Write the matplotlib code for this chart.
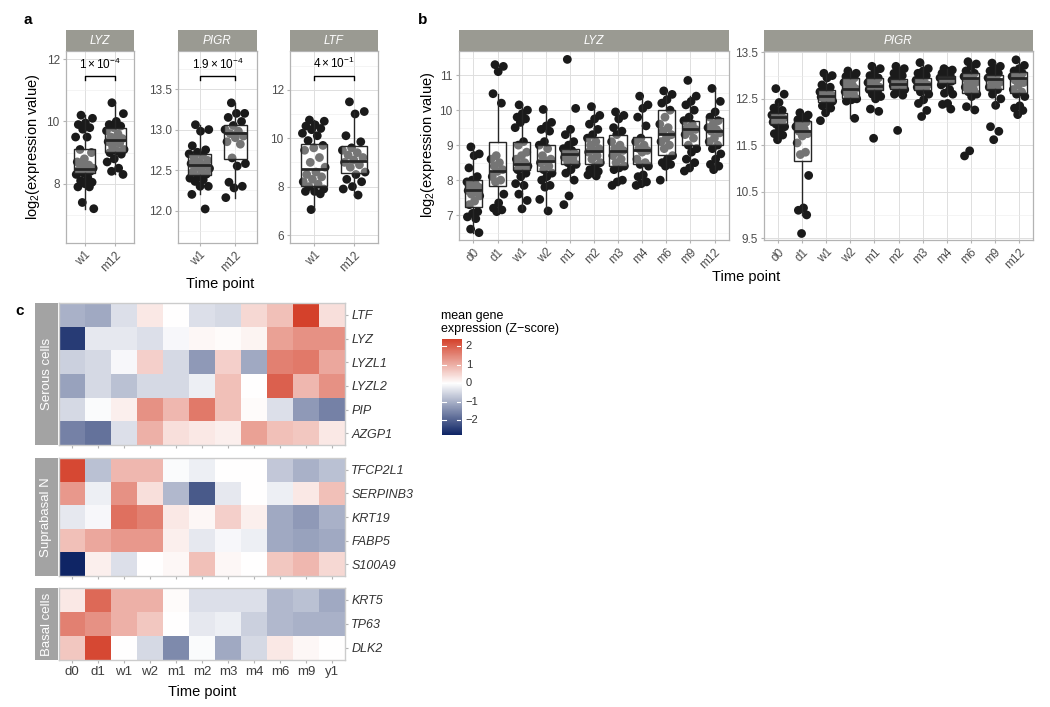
import numpy as np
import matplotlib
matplotlib.use('Agg')
import matplotlib.pyplot as plt
from matplotlib.colors import LinearSegmentedColormap, Normalize

plt.rcParams['font.family'] = ['Liberation Sans', 'DejaVu Sans']
plt.rcParams['mathtext.fontset'] = 'custom'
plt.rcParams['mathtext.rm'] = 'Liberation Sans'
plt.rcParams['mathtext.it'] = 'Liberation Sans:italic'
plt.rcParams['mathtext.bf'] = 'Liberation Sans:bold'

# ---------------- DATA ----------------
# Panel a: w1 vs m12
a_times = ['w1', 'm12']
a_genes = ['LYZ', 'PIGR', 'LTF']
a_pvals = [r'$1 \times 10^{-4}$', r'$1.9 \times 10^{-4}$', r'$4 \times 10^{-1}$']
a_bracket_y = [11.45, 13.66, 12.58]

a_lyz_pts = [
    [10.2, 10.1, 9.95, 9.9, 9.8, 9.75, 9.5, 9.5, 9.1, 9.0, 8.8, 8.7, 8.6, 8.6, 8.5, 8.5, 8.45,
     8.4, 8.35, 8.3, 8.2, 8.1, 8.05, 8.0, 7.9, 7.9, 7.4, 7.2],
    [10.6, 10.25, 10.0, 9.9, 9.85, 9.8, 9.7, 9.6, 9.5, 9.45, 9.4, 9.35, 9.3, 9.2, 9.1, 9.05,
     9.0, 8.95, 8.8, 8.7, 8.5, 8.4, 8.3],
]
a_pigr_pts = [
    [13.06, 13.0, 12.98, 12.8, 12.75, 12.72, 12.7, 12.68, 12.65, 12.62, 12.6, 12.58, 12.56,
     12.55, 12.52, 12.5, 12.48, 12.45, 12.42, 12.4, 12.38, 12.36, 12.3, 12.3, 12.2, 12.02],
    [13.33, 13.2, 13.2, 13.15, 13.1, 13.05, 13.0, 12.98, 12.95, 12.92, 12.9, 12.85, 12.82,
     12.65, 12.58, 12.55, 12.35, 12.3, 12.28, 12.16],
]
a_ltf_pts = [
    [10.75, 10.7, 10.55, 10.5, 10.4, 10.35, 10.2, 10.1, 9.9, 9.7, 9.6, 9.5, 9.2, 9.0, 8.8,
     8.6, 8.5, 8.4, 8.3, 8.2, 8.1, 8.0, 7.9, 7.8, 7.8, 7.7, 7.05],
    [11.5, 11.1, 11.0, 10.1, 9.85, 9.6, 9.5, 9.4, 9.3, 9.2, 9.1, 9.0, 8.9, 8.8, 8.6, 8.5,
     8.3, 8.2, 8.0, 7.9, 7.65],
]
# box stats: (whisker low, q1, median, q3, whisker high)
a_lyz_box = [(7.2, 8.35, 8.46, 9.13, 10.2), (8.3, 9.02, 9.39, 9.79, 10.6)]
a_pigr_box = [(12.2, 12.44, 12.56, 12.70, 13.06), (12.16, 12.64, 12.96, 13.06, 13.33)]
a_ltf_box = [(7.05, 8.04, 8.72, 9.77, 10.75), (7.65, 8.55, 9.06, 9.66, 11.1)]

a_lyz_ticks = [8, 10, 12]
a_lyz_ticklabels = ['8', '10', '12']
a_pigr_ticks = [12.0, 12.5, 13.0, 13.5]
a_pigr_ticklabels = ['12.0', '12.5', '13.0', '13.5']
a_ltf_ticks = [6, 8, 10, 12]
a_ltf_ticklabels = ['6', '8', '10', '12']

# Panel b: time course
b_times = ['d0', 'd1', 'w1', 'w2', 'm1', 'm2', 'm3', 'm4', 'm6', 'm9', 'm12']
b_genes = ['LYZ', 'PIGR']
b_lyz_pts = [
    [8.95, 8.75, 8.7, 8.35, 8.1, 8.0, 7.95, 7.9, 7.85, 7.8, 7.75, 7.7, 7.65, 7.6, 7.55, 7.4,
     7.3, 7.1, 7.05, 6.95, 6.9, 6.6, 6.5],
    [11.3, 11.25, 11.1, 10.47, 10.2, 8.7, 8.6, 8.5, 8.4, 8.3, 8.25, 8.1, 8.0, 7.95, 7.6,
     7.35, 7.2, 7.15, 7.1],
    [10.15, 10.0, 9.9, 9.8, 9.75, 9.65, 9.5, 9.1, 9.0, 8.8, 8.7, 8.6, 8.5, 8.45, 8.4, 8.35,
     8.3, 8.2, 8.1, 7.9, 7.85, 7.6, 7.42, 7.18],
    [10.02, 9.65, 9.55, 9.45, 9.4, 9.1, 9.0, 8.9, 8.7, 8.6, 8.55, 8.5, 8.4, 8.3, 8.2, 8.1,
     8.0, 7.85, 7.8, 7.45, 7.12],
    [11.45, 10.05, 9.45, 9.3, 9.1, 9.0, 8.9, 8.85, 8.8, 8.75, 8.7, 8.65, 8.6, 8.5, 8.45, 8.3,
     8.2, 8.0, 7.55, 7.3],
    [10.1, 9.85, 9.75, 9.6, 9.45, 9.3, 9.2, 9.1, 9.0, 8.9, 8.85, 8.8, 8.7, 8.6, 8.5, 8.4,
     8.3, 8.25, 8.2, 8.15, 8.12],
    [9.95, 9.85, 9.75, 9.5, 9.4, 9.3, 9.1, 9.0, 8.9, 8.85, 8.8, 8.7, 8.6, 8.5, 8.4, 8.35,
     8.3, 8.0, 7.95, 7.85],
    [10.4, 10.15, 10.05, 9.8, 9.55, 9.2, 9.1, 9.0, 8.9, 8.85, 8.8, 8.6, 8.5, 8.45, 8.4,
     8.15, 8.1, 7.95, 7.9, 7.85],
    [10.55, 10.45, 10.3, 10.2, 10.0, 9.8, 9.6, 9.5, 9.4, 9.3, 9.2, 9.1, 9.0, 8.9, 8.7, 8.6,
     8.5, 8.45, 8.4, 8.0],
    [10.85, 10.4, 10.25, 10.15, 10.0, 9.8, 9.7, 9.6, 9.5, 9.45, 9.4, 9.3, 9.2, 9.0, 8.9,
     8.8, 8.6, 8.5, 8.35, 8.26],
    [10.62, 10.25, 9.95, 9.8, 9.7, 9.6, 9.5, 9.45, 9.4, 9.35, 9.2, 9.1, 9.0, 8.9, 8.75, 8.6,
     8.45, 8.4, 8.3],
]
b_lyz_box = [
    (6.5, 7.23, 7.72, 8.0, 8.95), (7.1, 7.84, 8.26, 9.1, 10.47), (7.18, 8.3, 8.46, 9.1, 10.15),
    (7.12, 8.25, 8.56, 8.99, 10.02), (8.0, 8.47, 8.76, 8.9, 9.45), (8.12, 8.46, 8.84, 9.22, 10.1),
    (7.85, 8.39, 8.84, 9.29, 9.95), (7.85, 8.46, 8.85, 9.23, 10.4), (8.0, 8.73, 9.32, 10.0, 10.55),
    (8.26, 8.99, 9.47, 9.7, 10.4), (8.3, 9.01, 9.39, 9.77, 10.62),
]
b_pigr_pts = [
    [12.72, 12.6, 12.42, 12.3, 12.25, 12.2, 12.15, 12.12, 12.1, 12.08, 12.05, 12.0, 11.98,
     11.95, 11.9, 11.85, 11.75, 11.72, 11.62],
    [12.2, 12.15, 12.1, 12.05, 12.0, 11.95, 11.9, 11.85, 11.8, 11.75, 11.7, 11.55, 11.35,
     11.3, 10.85, 10.15, 10.1, 10.0, 9.6],
    [13.05, 13.0, 12.95, 12.8, 12.75, 12.7, 12.65, 12.62, 12.6, 12.58, 12.56, 12.54, 12.52,
     12.5, 12.45, 12.4, 12.35, 12.3, 12.2, 12.03],
    [13.1, 13.05, 13.0, 12.98, 12.95, 12.9, 12.85, 12.8, 12.75, 12.72, 12.7, 12.65, 12.6,
     12.55, 12.5, 12.48, 12.45, 12.08],
    [13.2, 13.15, 13.1, 13.0, 12.95, 12.9, 12.85, 12.8, 12.78, 12.75, 12.72, 12.7, 12.65,
     12.6, 12.55, 12.5, 12.28, 12.23, 11.65],
    [13.2, 13.15, 13.1, 13.05, 13.0, 12.95, 12.9, 12.88, 12.85, 12.82, 12.8, 12.78, 12.75,
     12.72, 12.7, 12.65, 12.6, 12.58, 11.82],
    [13.28, 13.15, 13.1, 13.05, 13.0, 12.95, 12.9, 12.85, 12.82, 12.8, 12.78, 12.75, 12.7,
     12.65, 12.6, 12.48, 12.4, 12.25, 12.12],
    [13.15, 13.12, 13.1, 13.05, 13.0, 12.98, 12.95, 12.92, 12.9, 12.88, 12.85, 12.8, 12.7,
     12.62, 12.6, 12.4, 12.38, 12.28],
    [13.3, 13.25, 13.2, 13.1, 13.05, 13.0, 12.98, 12.95, 12.9, 12.85, 12.8, 12.75, 12.7,
     12.65, 12.6, 12.55, 12.33, 12.26, 11.38, 11.27],
    [13.27, 13.2, 13.15, 13.1, 13.05, 13.0, 12.95, 12.92, 12.9, 12.85, 12.8, 12.75, 12.7,
     12.6, 12.5, 12.36, 11.9, 11.8, 11.62],
    [13.34, 13.22, 13.15, 13.1, 13.05, 13.0, 12.98, 12.95, 12.9, 12.85, 12.8, 12.7, 12.65,
     12.6, 12.55, 12.35, 12.3, 12.25, 12.16],
]
b_pigr_box = [
    (11.62, 11.95, 12.1, 12.19, 12.42), (10.0, 11.17, 11.8, 12.03, 12.2), (12.2, 12.44, 12.57, 12.69, 13.05),
    (12.08, 12.52, 12.72, 12.94, 13.1), (12.5, 12.69, 12.77, 12.95, 13.2), (12.58, 12.71, 12.82, 12.92, 13.2),
    (12.4, 12.69, 12.81, 12.94, 13.28), (12.6, 12.84, 12.94, 13.0, 13.15), (12.26, 12.63, 12.95, 13.06, 13.3),
    (12.36, 12.71, 12.92, 13.02, 13.27), (12.16, 12.63, 12.95, 13.07, 13.34),
]
b_lyz_ticks = [7, 8, 9, 10, 11]
b_lyz_ticklabels = ['7', '8', '9', '10', '11']
b_pigr_ticks = [9.5, 10.5, 11.5, 12.5, 13.5]
b_pigr_ticklabels = ['9.5', '10.5', '11.5', '12.5', '13.5']

# Panel c: heatmap (Z-scores)
c_times = ['d0', 'd1', 'w1', 'w2', 'm1', 'm2', 'm3', 'm4', 'm6', 'm9', 'y1']
c_groups = ['Serous cells', 'Suprabasal N', 'Basal cells']
serous_genes = ['LTF', 'LYZ', 'LYZL1', 'LYZL2', 'PIP', 'AZGP1']
serous_z = [
    [-1.0, -1.1, -0.4, 0.3, 0.0, -0.4, -0.5, 0.5, 0.8, 2.4, 0.4],
    [-2.5, -0.3, -0.3, -0.4, -0.1, 0.1, 0.05, 0.15, 1.2, 1.4, 1.4],
    [-0.6, -0.5, -0.1, 0.6, -0.5, -1.3, 0.6, -1.1, 1.6, 1.7, 1.1],
    [-1.2, -0.5, -0.8, -0.5, -0.5, -0.2, 0.8, 0.0, 2.0, 0.9, 1.4],
    [-0.5, -0.05, 0.2, 1.4, 0.9, 1.7, 0.8, 0.05, -0.4, -1.3, -1.6],
    [-1.6, -1.8, -0.4, 1.0, 0.4, 0.3, 0.2, 1.2, 0.8, 0.7, 0.3],
]
supra_genes = ['TFCP2L1', 'SERPINB3', 'KRT19', 'FABP5', 'S100A9']
supra_z = [
    [2.3, -0.8, 0.9, 0.9, -0.05, -0.2, 0.0, 0.0, -0.7, -1.0, -0.8],
    [1.3, -0.2, 1.4, 0.4, -0.9, -2.1, -0.3, 0.0, -0.2, 0.3, 0.8],
    [-0.3, -0.1, 1.8, 1.6, 0.3, 0.1, 0.6, 0.2, -1.1, -1.3, -1.0],
    [0.8, 1.1, 1.3, 1.3, 0.2, -0.3, -0.1, -0.2, -1.1, -1.2, -1.1],
    [-2.8, 0.2, -0.4, 0.0, 0.1, 0.8, 0.1, 0.0, 0.7, 0.9, 0.5],
]
basal_genes = ['KRT5', 'TP63', 'DLK2']
basal_z = [
    [0.3, 1.9, 1.0, 1.0, 0.05, -0.4, -0.4, -0.4, -0.9, -0.8, -1.1],
    [1.6, 1.4, 1.0, 0.7, 0.0, -0.3, -0.2, -0.6, -0.9, -1.0, -1.0],
    [0.7, 2.3, 0.0, -0.5, -1.5, -0.05, -1.1, -0.5, 0.3, 0.1, 0.0],
]
cbar_ticks = [-2, -1, 0, 1, 2]
cbar_ticklabels = ['\u22122', '\u22121', '0', '1', '2']

# ---------------- FIGURE ----------------
W, H = 1050, 707
fig = plt.figure(figsize=(W / 100, H / 100), dpi=100)


def add_ax(x0, x1, y0, y1):
    return fig.add_axes([x0 / W, 1 - y1 / H, (x1 - x0) / W, (y1 - y0) / H])


GRID_MAJ = '#dedede'
GRID_MIN = '#ececec'
BORDER = '#b3b3b3'
TICKLAB = '#4d4d4d'
STRIP = '#9a9a92'


def jitter_offsets(n, jw):
    # deterministic low-discrepancy spread (positions only)
    k = np.arange(n)
    return ((k * 0.6180339887 + 0.31) % 1.0 - 0.5) * 2 * jw


def strip(x0, x1, y0, y1, label):
    s = add_ax(x0, x1, y0, y1)
    s.set_facecolor(STRIP)
    s.set_xticks([]); s.set_yticks([])
    for sp in s.spines.values():
        sp.set_visible(False)
    s.text(0.5, 0.5, label, transform=s.transAxes, ha='center', va='center',
           color='white', fontsize=8.5, fontstyle='italic')


def box_panel(rect, pts, box, xlabels, ylim, yticks, yticklabels, title, bw, jw, rot=45):
    x0, x1, y0, y1 = rect
    ax = add_ax(x0, x1, y0, y1)
    strip(x0, x1, 30, y0, title)
    n = len(xlabels)
    pos = np.arange(1, n + 1)
    ax.set_xlim(0.4, n + 0.6)
    ax.set_ylim(*ylim)
    ax.set_yticks(yticks)
    ax.set_yticklabels(yticklabels)
    step = yticks[1] - yticks[0]
    minors = np.arange(yticks[0] - step / 2, ylim[1], step)
    minors = [m for m in minors if ylim[0] < m < ylim[1]]
    ax.set_yticks(minors, minor=True)
    ax.set_xticks(pos)
    ax.set_xticklabels(xlabels, rotation=rot, ha='right', va='top', rotation_mode='anchor')
    ax.grid(which='major', color=GRID_MAJ, lw=0.7)
    ax.grid(which='minor', axis='y', color=GRID_MIN, lw=0.4)
    ax.set_axisbelow(True)
    ax.tick_params(which='major', length=2.5, color=BORDER, labelsize=8.5, labelcolor=TICKLAB, pad=2)
    ax.tick_params(which='minor', length=0)
    for sp in ax.spines.values():
        sp.set_color(BORDER); sp.set_linewidth(0.9)
    for i, vals in enumerate(pts):
        v = np.array(vals)
        ax.scatter(pos[i] + jitter_offsets(len(v), jw), v, s=40, color='#1a1a1a',
                   edgecolors='none', zorder=2)
    stats = [dict(whislo=b[0], q1=b[1], med=b[2], q3=b[3], whishi=b[4], fliers=[]) for b in box]
    ax.bxp(stats, positions=pos, widths=bw, patch_artist=True, showcaps=False, showfliers=False,
           boxprops=dict(facecolor=(1, 1, 1, 0.4), edgecolor='#262626', lw=1.0),
           medianprops=dict(color='#262626', lw=2.0),
           whiskerprops=dict(color='#262626', lw=1.0), manage_ticks=False, zorder=3)
    return ax


# ---- Panel a ----
a_specs = [
    ((66, 134, 51, 243), a_lyz_pts, a_lyz_box, (6.1, 12.26), a_lyz_ticks, a_lyz_ticklabels),
    ((178, 257, 51, 243), a_pigr_pts, a_pigr_box, (11.6, 13.97), a_pigr_ticks, a_pigr_ticklabels),
    ((290, 378, 51, 243), a_ltf_pts, a_ltf_box, (5.67, 13.6), a_ltf_ticks, a_ltf_ticklabels),
]
for gi, (rect, pts, box, ylim, yt, ytl) in enumerate(a_specs):
    ax = box_panel(rect, pts, box, a_times, ylim, yt, ytl, a_genes[gi], 0.66, 0.3)
    yb = a_bracket_y[gi]
    tk = (ylim[1] - ylim[0]) * 0.022
    ax.plot([1, 1, 2, 2], [yb - tk, yb, yb, yb - tk], color='black', lw=1.0, zorder=4)
    ax.text(1.5, yb + tk * 1.0, a_pvals[gi], ha='center', va='bottom', fontsize=8.5, color='black')

fig.text(33 / W, 1 - 147 / H, r'log$_2$(expression value)', rotation=90, ha='center', va='center', fontsize=10.5)
fig.text(220 / W, 1 - 284 / H, 'Time point', ha='center', va='center', fontsize=10.5)
fig.text(28 / W, 1 - 20 / H, 'a', ha='center', va='center', fontsize=11, fontweight='bold')

# ---- Panel b ----
box_panel((459, 729, 51, 240), b_lyz_pts, b_lyz_box, b_times, (6.29, 11.69),
          b_lyz_ticks, b_lyz_ticklabels, b_genes[0], 0.73, 0.28)
box_panel((764, 1033, 51, 240), b_pigr_pts, b_pigr_box, b_times, (9.46, 13.53),
          b_pigr_ticks, b_pigr_ticklabels, b_genes[1], 0.73, 0.28)
fig.text(428 / W, 1 - 145 / H, r'log$_2$(expression value)', rotation=90, ha='center', va='center', fontsize=10.5)
fig.text(746 / W, 1 - 277 / H, 'Time point', ha='center', va='center', fontsize=10.5)
fig.text(423 / W, 1 - 20 / H, 'b', ha='center', va='center', fontsize=11, fontweight='bold')

# ---- Panel c ----
all_z = np.concatenate([np.ravel(serous_z), np.ravel(supra_z), np.ravel(basal_z)])
zmin, zmax = all_z.min(), all_z.max()
lim = max(abs(zmin), abs(zmax))
cmap = LinearSegmentedColormap.from_list('bwr_gg', ['#0f2565', '#ffffff', '#cd2208'])
norm = Normalize(-lim, lim)

hm_specs = [
    (303, 445, serous_genes, serous_z, c_groups[0]),
    (458, 576, supra_genes, supra_z, c_groups[1]),
    (588, 660, basal_genes, basal_z, c_groups[2]),
]
for hi, (y0, y1, genes, z, grp) in enumerate(hm_specs):
    ax = add_ax(59, 345, y0, y1)
    n = len(genes)
    ax.pcolormesh(np.arange(len(c_times) + 1) + 0.5, np.arange(n + 1) + 0.5, np.array(z),
                  cmap=cmap, norm=norm, shading='flat')
    ax.set_xlim(0.5, len(c_times) + 0.5)
    ax.set_ylim(n + 0.5, 0.5)
    ax.yaxis.tick_right()
    ax.set_yticks(np.arange(1, n + 1))
    ax.set_yticklabels(genes, fontstyle='italic')
    ax.set_xticks(np.arange(1, len(c_times) + 1))
    if hi == len(hm_specs) - 1:
        ax.set_xticklabels(c_times)
    else:
        ax.set_xticklabels([])
    ax.tick_params(length=2.5, color=BORDER, labelsize=9, labelcolor='#333333', pad=2)
    ax.tick_params(axis='x', labelcolor='#3d3d3d', labelsize=9.5)
    for sp in ax.spines.values():
        sp.set_color('#cccccc'); sp.set_linewidth(1.0)
    s = add_ax(35, 58, y0, y1)
    s.set_facecolor('#a3a3a3')
    s.set_xticks([]); s.set_yticks([])
    for sp in s.spines.values():
        sp.set_visible(False)
    s.text(0.5, 0.5, grp, transform=s.transAxes, rotation=90, ha='center', va='center',
           color='white', fontsize=9.5)

fig.text(202 / W, 1 - 692 / H, 'Time point', ha='center', va='center', fontsize=10.5)
fig.text(20 / W, 1 - 311 / H, 'c', ha='center', va='center', fontsize=11, fontweight='bold')

# colorbar
cax = add_ax(442, 461, 339, 435)
grad = np.linspace(zmax, zmin, 256)[:, None]
cax.imshow(grad, extent=(0, 1, zmin, zmax), aspect='auto', cmap=cmap, norm=norm)
cax.set_xlim(0, 1); cax.set_ylim(zmin, zmax)
cax.set_xticks([]); cax.set_yticks([])
for sp in cax.spines.values():
    sp.set_visible(False)
for t, tl in zip(cbar_ticks, cbar_ticklabels):
    cax.plot([0, 0.2], [t, t], color='white', lw=0.8)
    cax.plot([0.8, 1], [t, t], color='white', lw=0.8)
    cax.text(1.25, t, tl, transform=cax.get_yaxis_transform(), ha='left', va='center',
             fontsize=8, color='#333333')
fig.text(441 / W, 1 - 310 / H, 'mean gene\nexpression (Z\u2212score)', ha='left', va='top',
         fontsize=9, linespacing=1.1)

fig.savefig('out.png', dpi=100)
